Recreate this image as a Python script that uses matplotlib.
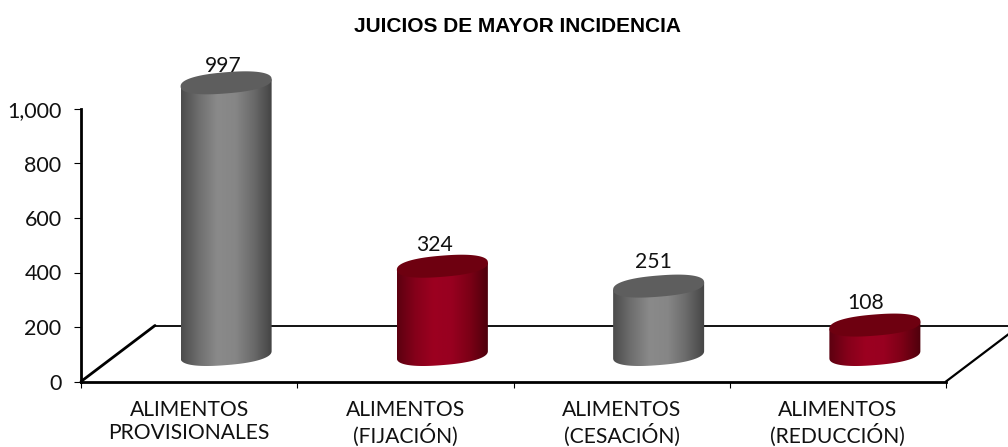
import numpy as np
import matplotlib
matplotlib.use("Agg")
import matplotlib.pyplot as plt
from matplotlib.patches import Polygon
from matplotlib.colors import LinearSegmentedColormap

title = "JUICIOS DE MAYOR INCIDENCIA"
categories = ["ALIMENTOS\nPROVISIONALES", "ALIMENTOS\n(FIJACIÓN)", "ALIMENTOS\n(CESACIÓN)", "ALIMENTOS\n(REDUCCIÓN)"]
values = [997, 324, 251, 108]
value_labels = ["997", "324", "251", "108"]
yticks = [0, 200, 400, 600, 800, 1000]
ytick_labels = ["0", "200", "400", "600", "800", "1,000"]

W, H = 1008, 447
fig = plt.figure(figsize=(W / 100, H / 100), dpi=100)
fig.patch.set_facecolor("white")
L, R, T, B = 81, 946, 109, 381.5
ax = fig.add_axes([L / W, 1 - B / H, (R - L) / W, (B - T) / H])
ax.set_facecolor("none")

px = (len(categories)) / (R - L)      # data x per pixel
py = 1000 / (B - T)                   # data y per pixel
DX, DY = 74, 56                       # floor depth in pixels
A, BB, S = 45.5, 10.6, 3.6            # cylinder ellipse half-width, half-height, tilt
label_shift = [(-3, 17), (-8, 21), (-5, 24), (-9, 22)]

gray = LinearSegmentedColormap.from_list("g", ["#4c4c4c", "#6f6f6f", "#8a8a8a", "#868686", "#6a6a6a", "#444444"])
red = LinearSegmentedColormap.from_list("r", ["#5c0010", "#85001a", "#9c0020", "#980020", "#7c0016", "#4e000c"])
schemes = [(gray, "#5e5e5e"), (red, "#6e0010"), (gray, "#5e5e5e"), (red, "#6e0010")]
grad = np.linspace(0, 1, 256).reshape(1, -1)


def rim(t):
    """Slightly squared ellipse, in pixel offsets from its centre."""
    c, s = np.cos(t), np.sin(t)
    c2 = np.sign(c) * np.abs(c) ** 0.85
    s2 = np.sign(s) * np.abs(s) ** 0.85
    return A * c2, BB * s2 + S * c2


# floor
ax.plot([0, DX * px], [0, DY * py], color="black", lw=2.0, clip_on=False, zorder=1, solid_capstyle="round")
ax.plot([DX * px, 4 + DX * px], [DY * py, DY * py], color="black", lw=1.3, clip_on=False, zorder=1)
ax.plot([4, 4 + DX * px], [0, DY * py], color="black", lw=1.6, clip_on=False, zorder=1)

t = np.linspace(0, 2 * np.pi, 241)
for i, (v, (cmap, topc)) in enumerate(zip(values, schemes)):
    cx = i + 0.5 + (DX / 2) * px
    y0 = (DY / 2 - 1) * py
    y1 = y0 + v
    lower = np.linspace(np.pi, 2 * np.pi, 121)   # front half of the rim
    ox, oy = rim(lower)
    tx, ty = rim(t)
    outline = np.column_stack([
        np.r_[cx - A * px, cx + ox * px, cx + A * px],
        np.r_[y1 - S * py, y0 + oy * py, y1 + S * py],
    ])
    body = Polygon(outline, closed=True, fc="none", ec="none", zorder=2, clip_on=False)
    ax.add_patch(body)
    im = ax.imshow(grad, cmap=cmap, aspect="auto", zorder=2,
                   extent=[cx - A * px, cx + A * px, y0 - 20 * py, y1 + 10 * py])
    im.set_clip_box(fig.bbox)
    im.set_clip_path(body)
    ax.fill(cx + tx * px, y1 + ty * py, color=topc, lw=0, zorder=3, clip_on=False)
    ax.annotate(value_labels[i], (cx, y1), xytext=label_shift[i], textcoords="offset pixels",
                ha="center", va="center", fontsize=15.2, family="Lato", color="#111111",
                annotation_clip=False, zorder=4)

ax.set_xlim(0, 4)
ax.set_ylim(0, 1000)
ax.set_xticks(range(5))
ax.set_xticklabels([])
ax.set_xticks(np.arange(len(categories)) + 0.5, categories, minor=True)
ax.tick_params(axis="x", which="minor", length=0, pad=13, labelsize=15.2, labelfontfamily="Lato", labelcolor="#111111")
ax.tick_params(axis="x", which="major", length=4, width=0.8, color="black")
ax.set_yticks(yticks, ytick_labels)
ax.tick_params(axis="y", length=5, width=0.8, pad=9, labelsize=15.5, labelfontfamily="Lato", labelcolor="#111111")
for lab in ax.get_xticklabels(minor=True):
    lab.set_linespacing(1.22)
for s in ("top", "right"):
    ax.spines[s].set_visible(False)
for s in ("left", "bottom"):
    ax.spines[s].set_linewidth(2.0)
    ax.spines[s].set_zorder(5)

fig.text(518 / W, 1 - 27 / H, title, ha="center", va="center", fontsize=15,
         fontweight="bold", family="Liberation Sans", color="black")
fig.savefig("out.png", dpi=100)
